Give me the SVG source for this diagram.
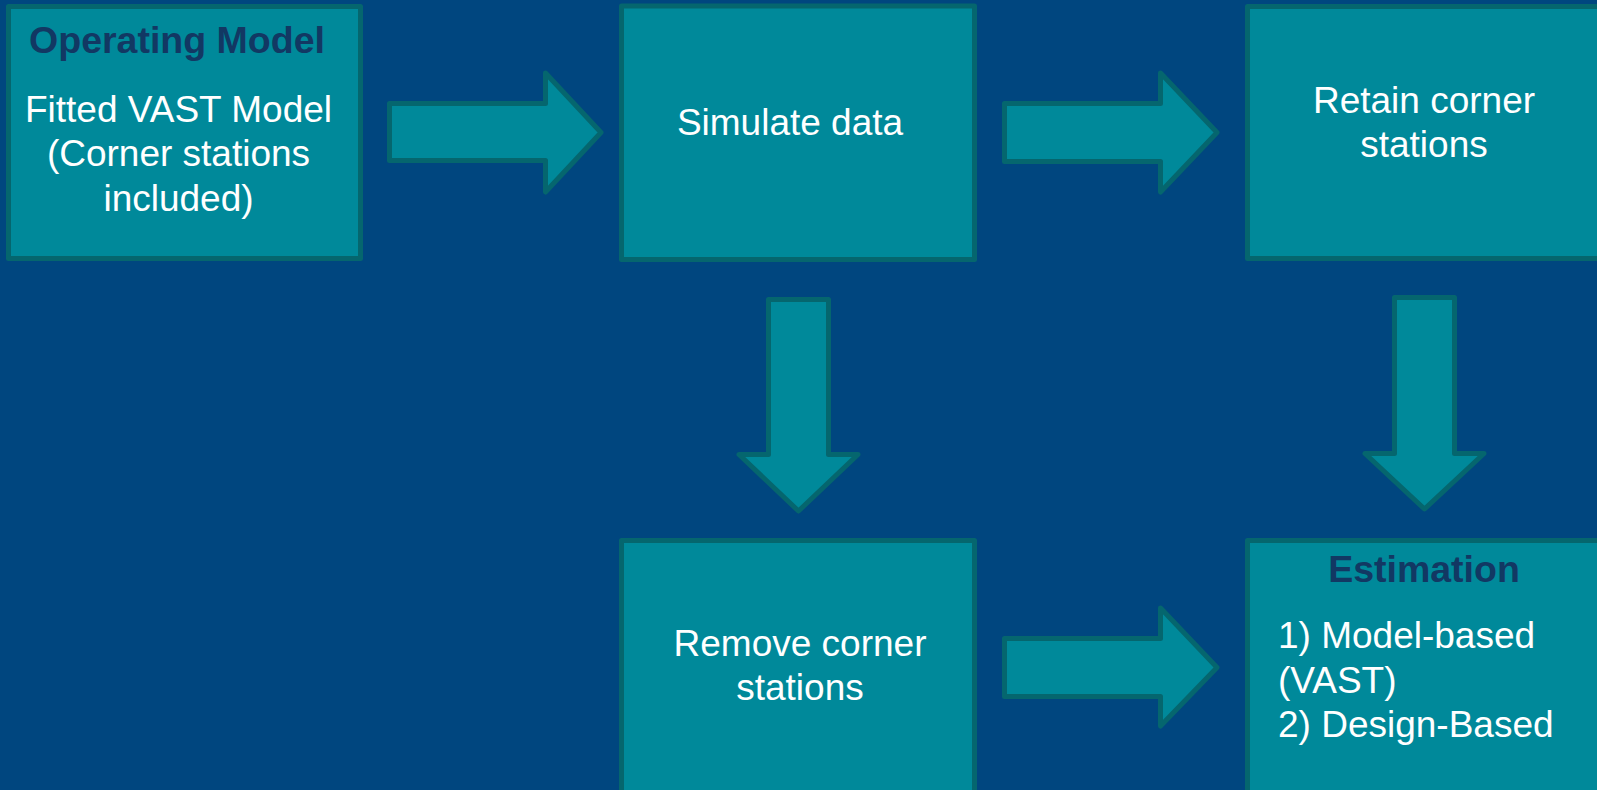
<svg xmlns="http://www.w3.org/2000/svg" width="1597" height="790" viewBox="0 0 1597 790">
<style>
.box{fill:#00899a;stroke:#05666e;stroke-width:5;stroke-linejoin:round}
.arr{fill:#00899a;stroke:#05666e;stroke-width:5;stroke-linejoin:round}
.t{font-family:"Liberation Sans",Arial,sans-serif;font-size:37px;fill:#ffffff}
.h{font-family:"Liberation Sans",Arial,sans-serif;font-size:37.5px;font-weight:bold;fill:#123863}
</style>
<rect x="0" y="0" width="1597" height="790" fill="#00467f"/>
<g id="connectors">
<path class="arr" d="M389.5,103.5 H545.5 V73 L601,132.5 L545.5,192 V160.5 H389.5 Z"/>
<path class="arr" d="M1004.5,103.5 H1160.5 V73 L1217,132.5 L1160.5,192 V161.5 H1004.5 Z"/>
<path class="arr" d="M768.5,299.5 H828.5 V454.5 H858 L798.5,511 L739,454.5 H768.5 Z"/>
<path class="arr" d="M1394.5,297.5 H1454.5 V453.5 H1484 L1424.5,509 L1365,453.5 H1394.5 Z"/>
<path class="arr" d="M1004.5,638.5 H1160.5 V608 L1217,667.5 L1160.5,726 V696.5 H1004.5 Z"/>
</g>
<g id="operating-model">
<rect class="box" x="8.5" y="6.5" width="352" height="252"/>
<text class="h" x="177" y="53" text-anchor="middle">Operating Model</text>
<text class="t" x="178.5" y="122" text-anchor="middle">Fitted VAST Model</text>
<text class="t" x="178.5" y="166" text-anchor="middle">(Corner stations</text>
<text class="t" x="178.5" y="211" text-anchor="middle">included)</text>
</g>
<g id="simulate-data">
<rect class="box" x="621.5" y="6" width="353" height="253.5"/>
<text class="t" x="790" y="135" text-anchor="middle">Simulate data</text>
</g>
<g id="retain-corner">
<rect class="box" x="1247.5" y="6.5" width="360" height="252"/>
<text class="t" x="1424" y="113" text-anchor="middle">Retain corner</text>
<text class="t" x="1424" y="157" text-anchor="middle">stations</text>
</g>
<g id="remove-corner">
<rect class="box" x="621.5" y="540.5" width="353" height="260"/>
<text class="t" x="800" y="656" text-anchor="middle">Remove corner</text>
<text class="t" x="800" y="700" text-anchor="middle">stations</text>
</g>
<g id="estimation">
<rect class="box" x="1247.5" y="540.5" width="360" height="260"/>
<text class="h" x="1424" y="582" text-anchor="middle">Estimation</text>
<text class="t" x="1278" y="648">1) Model-based</text>
<text class="t" x="1278" y="693">(VAST)</text>
<text class="t" x="1278" y="737">2) Design-Based</text>
</g>
</svg>
